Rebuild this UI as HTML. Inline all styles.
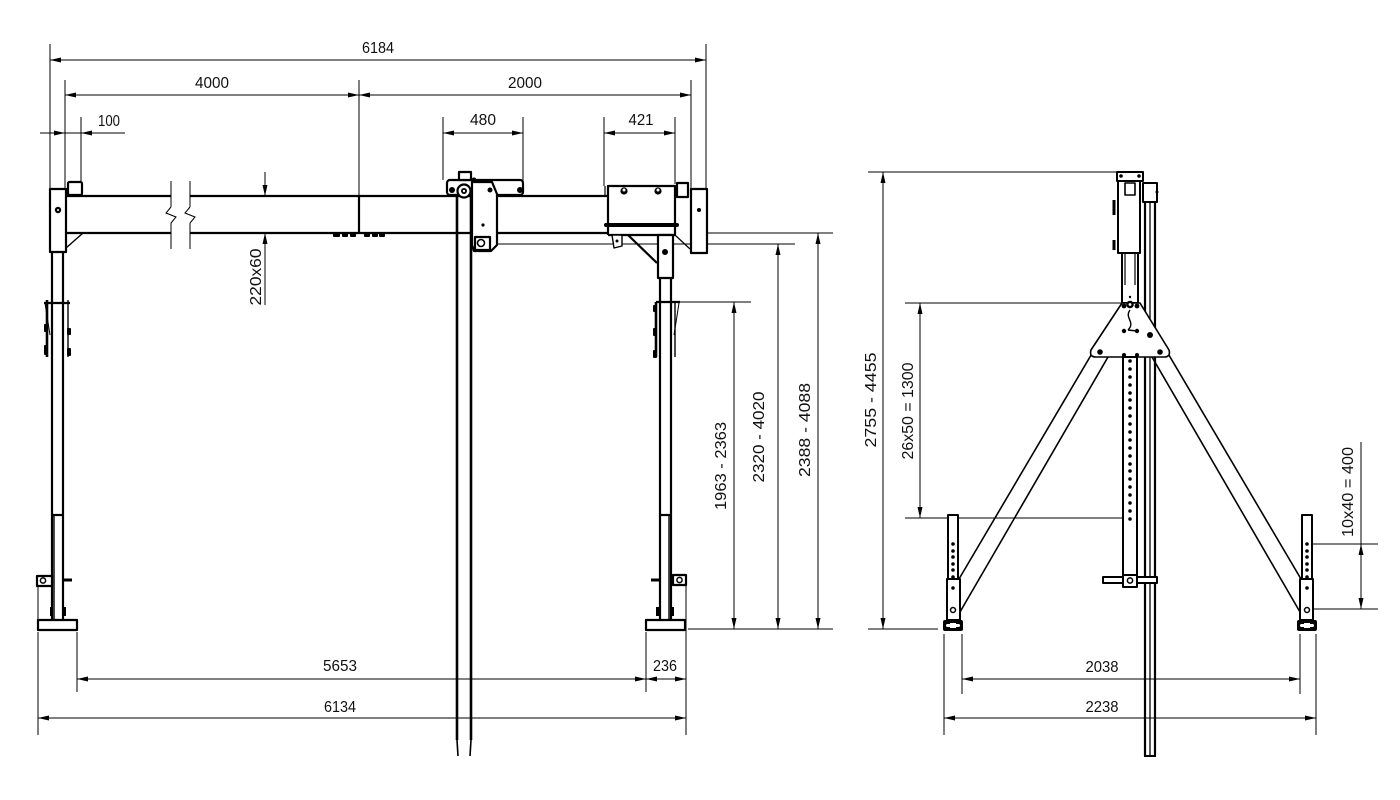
<!DOCTYPE html>
<html><head><meta charset="utf-8"><style>
html,body{margin:0;padding:0;background:#fff;}
svg{display:block;}
text{font-family:"Liberation Sans",sans-serif;font-size:16px;fill:#111;}
</style></head><body>
<svg width="1400" height="800" viewBox="0 0 1400 800" xmlns="http://www.w3.org/2000/svg">
<rect width="1400" height="800" fill="#fff"/>

<!-- ============ DIMENSION LINES (thin) ============ -->
<g stroke="#000" stroke-width="1" fill="none">
  <!-- top ext lines -->
  <line x1="50" y1="44" x2="50" y2="188"/>
  <line x1="706" y1="44" x2="706" y2="188"/>
  <line x1="65" y1="80" x2="65" y2="189"/>
  <line x1="359" y1="80" x2="359" y2="196"/>
  <line x1="691" y1="80" x2="691" y2="190"/>
  <line x1="81" y1="117" x2="81" y2="182"/>
  <line x1="443" y1="117" x2="443" y2="180"/>
  <line x1="523" y1="117" x2="523" y2="182"/>
  <line x1="604" y1="117" x2="604" y2="186"/>
  <line x1="675" y1="117" x2="675" y2="184"/>
  <!-- top dim lines -->
  <line x1="50" y1="60" x2="706" y2="60"/>
  <line x1="65" y1="95" x2="691" y2="95"/>
  <line x1="40" y1="133" x2="125" y2="133"/>
  <line x1="443" y1="133" x2="523" y2="133"/>
  <line x1="604" y1="133" x2="675" y2="133"/>
  <!-- 220x60 -->
  <line x1="265" y1="172" x2="265" y2="196"/>
  <line x1="265" y1="233" x2="265" y2="305"/>
  <!-- break lines -->
  <line x1="171" y1="181" x2="171" y2="207"/>
  <polyline points="171,207 166,213 176,217 171,223"/>
  <line x1="171" y1="223" x2="171" y2="249"/>
  <line x1="190" y1="181" x2="190" y2="207"/>
  <polyline points="190,207 185,213 195,217 190,223"/>
  <line x1="190" y1="223" x2="190" y2="249"/>

  <!-- right vertical dims front view -->
  <line x1="707" y1="233" x2="833" y2="233"/>
  <line x1="495" y1="244" x2="795" y2="244"/>
  <line x1="680" y1="302" x2="751" y2="302"/>
  <line x1="688" y1="629" x2="833" y2="629"/>
  <line x1="734" y1="302" x2="734" y2="629"/>
  <line x1="778" y1="244" x2="778" y2="629"/>
  <line x1="818" y1="233" x2="818" y2="629"/>

  <!-- bottom dims front -->
  <line x1="38" y1="632" x2="38" y2="735"/>
  <line x1="77" y1="632" x2="77" y2="692"/>
  <line x1="646" y1="632" x2="646" y2="692"/>
  <line x1="686" y1="585" x2="686" y2="735"/>
  <line x1="38" y1="585" x2="38" y2="620"/>
  <line x1="77" y1="679" x2="686" y2="679"/>
  <line x1="38" y1="718" x2="686" y2="718"/>

  <!-- side view dims -->
  <line x1="868" y1="172" x2="1116" y2="172"/>
  <line x1="868" y1="629" x2="938" y2="629"/>
  <line x1="883" y1="172" x2="883" y2="629"/>
  <line x1="905" y1="303" x2="1122" y2="303"/>
  <line x1="905" y1="518" x2="1128" y2="518"/>
  <line x1="920" y1="303" x2="920" y2="518"/>
  <line x1="1313" y1="544" x2="1378" y2="544"/>
  <line x1="1313" y1="609" x2="1378" y2="609"/>
  <line x1="1361" y1="442" x2="1361" y2="609"/>
  <line x1="944" y1="634" x2="944" y2="735"/>
  <line x1="962" y1="634" x2="962" y2="694"/>
  <line x1="1300" y1="634" x2="1300" y2="694"/>
  <line x1="1316" y1="634" x2="1316" y2="735"/>
  <line x1="962" y1="679" x2="1300" y2="679"/>
  <line x1="944" y1="718" x2="1316" y2="718"/>
</g>

<!-- ============ ARROWHEADS ============ -->
<g fill="#000" stroke="none">
  <!-- 6184 -->
  <polygon points="50,60 61,57.5 61,62.5"/>
  <polygon points="706,60 695,57.5 695,62.5"/>
  <!-- 4000 / 2000 -->
  <polygon points="65,95 76,92.5 76,97.5"/>
  <polygon points="359,95 348,92.5 348,97.5"/>
  <polygon points="359,95 370,92.5 370,97.5"/>
  <polygon points="691,95 680,92.5 680,97.5"/>
  <!-- 100 -->
  <polygon points="65,133 54,130.5 54,135.5"/>
  <polygon points="81,133 92,130.5 92,135.5"/>
  <!-- 480 -->
  <polygon points="443,133 454,130.5 454,135.5"/>
  <polygon points="523,133 512,130.5 512,135.5"/>
  <!-- 421 -->
  <polygon points="604,133 615,130.5 615,135.5"/>
  <polygon points="675,133 664,130.5 664,135.5"/>
  <!-- 220x60 -->
  <polygon points="265,196 262.5,185 267.5,185"/>
  <polygon points="265,233 262.5,244 267.5,244"/>
  <!-- 5653 / 236 -->
  <polygon points="77,679 88,676.5 88,681.5"/>
  <polygon points="646,679 635,676.5 635,681.5"/>
  <polygon points="646,679 657,676.5 657,681.5"/>
  <polygon points="686,679 675,676.5 675,681.5"/>
  <!-- 6134 -->
  <polygon points="38,718 49,715.5 49,720.5"/>
  <polygon points="686,718 675,715.5 675,720.5"/>
  <!-- verticals front -->
  <polygon points="734,302 731.5,313 736.5,313"/>
  <polygon points="734,629 731.5,618 736.5,618"/>
  <polygon points="778,244 775.5,255 780.5,255"/>
  <polygon points="778,629 775.5,618 780.5,618"/>
  <polygon points="818,233 815.5,244 820.5,244"/>
  <polygon points="818,629 815.5,618 820.5,618"/>
  <!-- side -->
  <polygon points="883,172 880.5,183 885.5,183"/>
  <polygon points="883,629 880.5,618 885.5,618"/>
  <polygon points="920,303 917.5,314 922.5,314"/>
  <polygon points="920,518 917.5,507 922.5,507"/>
  <polygon points="1361,544 1358.5,555 1363.5,555"/>
  <polygon points="1361,609 1358.5,598 1363.5,598"/>
  <polygon points="962,679 973,676.5 973,681.5"/>
  <polygon points="1300,679 1289,676.5 1289,681.5"/>
  <polygon points="944,718 955,715.5 955,720.5"/>
  <polygon points="1316,718 1305,715.5 1305,720.5"/>
</g>

<!-- ============ FRONT VIEW STRUCTURE ============ -->
<g stroke="#000" stroke-width="2.2" fill="none" stroke-linejoin="round">
  <!-- beam -->
  <line x1="66" y1="196" x2="171" y2="196"/>
  <line x1="66" y1="233" x2="171" y2="233"/>
  <line x1="190" y1="196" x2="608" y2="196"/>
  <line x1="190" y1="233" x2="608" y2="233"/>
  <line x1="359" y1="196" x2="359" y2="233"/>
  <!-- left block -->
  <rect x="50" y="189" width="16" height="63" fill="#fff"/>
  <rect x="68" y="182" width="14" height="13" rx="1.5" fill="#fff"/>
  <line x1="66" y1="248" x2="83" y2="233" stroke-width="1.4"/>
  <!-- left column -->
  <line x1="52" y1="252" x2="52" y2="620"/>
  <line x1="63" y1="252" x2="63" y2="620"/>
  <line x1="52" y1="515" x2="63" y2="515"/>
  <line x1="54" y1="515" x2="54" y2="620" stroke-width="1.4"/>
  <!-- left clamp -->
  <line x1="44" y1="303" x2="70" y2="303"/>
  <line x1="47" y1="300" x2="47" y2="357" stroke-width="2.6"/>
  <line x1="68" y1="300" x2="68" y2="357" stroke-width="1.4"/>
  <line x1="45" y1="303" x2="50" y2="335" stroke-width="1"/>
  <!-- left bracket -->
  <rect x="37" y="576" width="15" height="10" fill="#fff"/>
  <circle cx="43" cy="580.5" r="2.6" stroke-width="1.5"/>
  <line x1="63" y1="580" x2="72" y2="580" stroke-width="3"/>
  <!-- left foot -->
  <rect x="38" y="620" width="39" height="10" fill="#fff"/>

  <!-- right top box -->
  <rect x="608" y="186" width="67" height="39" fill="#fff"/>
  <line x1="608" y1="225" x2="608" y2="235"/>
  <line x1="675" y1="225" x2="675" y2="235"/>
  <line x1="608" y1="235" x2="675" y2="235"/>
  <line x1="606" y1="225" x2="677" y2="225" stroke-width="4" stroke-linecap="round"/>
  <line x1="605" y1="186" x2="605" y2="196" stroke-width="1.2"/>
  <rect x="677" y="183" width="11" height="14" fill="#fff"/>
  <rect x="691" y="189" width="16" height="64" fill="#fff"/>
  <line x1="628" y1="235" x2="657" y2="263"/>
  <line x1="675" y1="235" x2="690" y2="249" stroke-width="1.2"/>
  <path d="M612,235 L622,235 L622,246 L614,248 Z" stroke-width="1.4" fill="#fff"/>
  <!-- right column -->
  <rect x="658" y="235" width="15" height="43" fill="#fff"/>
  <line x1="660" y1="278" x2="660" y2="620"/>
  <line x1="671" y1="278" x2="671" y2="620"/>
  <line x1="660" y1="515" x2="671" y2="515"/>
  <line x1="669" y1="515" x2="669" y2="620" stroke-width="1.4"/>
  <!-- right clamp -->
  <line x1="656" y1="302" x2="680" y2="302"/>
  <line x1="656" y1="302" x2="656" y2="357" stroke-width="2.6"/>
  <line x1="675" y1="302" x2="675" y2="357" stroke-width="1.4"/>
  <line x1="679" y1="303" x2="674" y2="335" stroke-width="1"/>
  <!-- right bracket -->
  <rect x="673" y="575" width="13" height="10" fill="#fff"/>
  <circle cx="679.5" cy="580" r="2.6" stroke-width="1.5"/>
  <line x1="651" y1="580" x2="660" y2="580" stroke-width="3"/>
  <!-- right foot -->
  <rect x="646" y="620" width="39" height="10" fill="#fff"/>

  <!-- hanging bar -->
  <line x1="457" y1="196" x2="457" y2="740" stroke-width="2.6"/>
  <line x1="471" y1="196" x2="471" y2="740" stroke-width="2.6"/>
  <line x1="457" y1="740" x2="458" y2="756" stroke-width="1.6"/>
  <line x1="471" y1="740" x2="470" y2="756" stroke-width="1.6"/>
  <!-- trolley -->
  <rect x="447" y="180" width="76" height="15" rx="3" fill="#fff"/>
  <path d="M472,182 L492,182 L497,194 L497,245 L491,251 L474,251 L472,245 Z" fill="#fff"/>
  <rect x="475" y="237" width="15" height="13" fill="#fff"/>
  <circle cx="481" cy="243" r="3.5" stroke-width="1.6"/>
  <rect x="459" y="172" width="12" height="8" fill="#fff"/>
  <circle cx="464" cy="191" r="6.5" fill="#fff"/>
</g>

<g fill="#000">
  <!-- bumps under beam -->
  <rect x="333" y="233" width="7" height="4" rx="1"/>
  <rect x="342" y="233" width="6" height="4" rx="1"/>
  <rect x="350" y="233" width="6" height="4" rx="1"/>
  <rect x="364" y="233" width="6" height="4" rx="1"/>
  <rect x="372" y="233" width="6" height="4" rx="1"/>
  <rect x="379" y="233" width="6" height="4" rx="1"/>
  <!-- dots -->
  <circle cx="58" cy="210" r="3.2"/>
  <circle cx="699" cy="210" r="2"/>
  <circle cx="665" cy="252" r="3"/>
  <circle cx="617" cy="241" r="1.5"/>
  <circle cx="464" cy="191" r="3"/>
  <circle cx="452" cy="190" r="3"/>
  <circle cx="520" cy="190" r="3"/>
  <circle cx="490" cy="190" r="2.5"/>
  <circle cx="483" cy="225" r="1.6"/>
  <circle cx="474" cy="180" r="2.5"/>
  <!-- bolts on right box -->
  <circle cx="624" cy="191" r="3.6"/>
  <circle cx="658" cy="191" r="3.6"/>
  <!-- clamp nubs -->
  <rect x="44" y="324" width="4" height="8" rx="1"/>
  <rect x="44" y="345" width="4" height="10" rx="1"/>
  <rect x="67" y="328" width="4" height="7" rx="1"/>
  <rect x="67" y="348" width="4" height="8" rx="1"/>
  <rect x="653" y="305" width="4" height="7" rx="1"/>
  <rect x="653" y="328" width="4" height="8" rx="1"/>
  <rect x="653" y="350" width="4" height="8" rx="1"/>
  <rect x="50" y="607" width="3" height="9"/>
  <rect x="63" y="607" width="3" height="9"/>
  <rect x="656" y="607" width="3" height="9"/>
  <rect x="671" y="607" width="3" height="9"/>
</g>
<g fill="#fff">
  <circle cx="58" cy="210" r="1"/>
  <circle cx="464" cy="191" r="1.2"/>
  <circle cx="624" cy="190" r="1.5"/>
  <circle cx="658" cy="190" r="1.5"/>
</g>

<!-- ============ SIDE VIEW STRUCTURE ============ -->
<g stroke="#000" stroke-width="2" fill="none" stroke-linejoin="round">
  <!-- rails -->
  <line x1="1145" y1="200" x2="1145" y2="756" stroke-width="2.2"/>
  <line x1="1150" y1="200" x2="1150" y2="756" stroke-width="1.3"/>
  <line x1="1155" y1="200" x2="1155" y2="756" stroke-width="2.2"/>
  <line x1="1144" y1="756" x2="1156" y2="756"/>
  <!-- legs -->
  <line x1="1097" y1="345" x2="959" y2="579" stroke-width="1.6"/>
  <line x1="1108" y1="357" x2="960" y2="612" stroke-width="1.6"/>
  <line x1="1163" y1="345" x2="1301" y2="579" stroke-width="1.6"/>
  <line x1="1152" y1="357" x2="1300" y2="612" stroke-width="1.6"/>
  <!-- top head -->
  <rect x="1117" y="172" width="26" height="9" fill="#fff"/>
  <rect x="1118" y="181" width="22" height="72" fill="#fff"/>
  <rect x="1125" y="183" width="10" height="12" stroke-width="1.6"/>
  <rect x="1143" y="183" width="14" height="19" fill="#fff"/>
  <line x1="1114" y1="200" x2="1114" y2="215" stroke-width="3"/>
  <line x1="1114" y1="240" x2="1114" y2="250" stroke-width="3"/>
  <!-- lower mast upper -->
  <rect x="1122" y="253" width="16" height="50" fill="#fff"/>
  <line x1="1125" y1="253" x2="1125" y2="285" stroke-width="1.2"/>
  <line x1="1135" y1="253" x2="1135" y2="285" stroke-width="1.2"/>
  <!-- triangle plate -->
  <path d="M1122,303 L1140,303 L1169,350 Q1171,357 1164,357 L1096,357 Q1089,357 1091,350 Z" fill="#fff" stroke-width="1.6"/>
  <path d="M1130,310 C1124,318 1136,322 1128,330 M1128,330 L1137,331" stroke-width="1.4"/>
  <!-- lower mast -->
  <rect x="1123" y="357" width="14" height="229" fill="#fff"/>
  <!-- mast clamp -->
  <rect x="1103" y="577" width="54" height="6" fill="#fff"/>
  <rect x="1123" y="575" width="14" height="12" fill="#fff"/>
  <circle cx="1130" cy="580.5" r="2.6" stroke-width="1.5"/>
  <!-- left foot -->
  <rect x="948" y="515" width="10" height="64" fill="#fff"/>
  <rect x="947" y="579" width="13" height="41" fill="#fff"/>
  <circle cx="953" cy="610" r="2.5" stroke-width="1.5"/>
  <!-- right foot -->
  <rect x="1302" y="515" width="10" height="64" fill="#fff"/>
  <rect x="1300" y="579" width="13" height="41" fill="#fff"/>
  <circle cx="1307" cy="610" r="2.5" stroke-width="1.5"/>
</g>
<g fill="#000">
  <!-- foot bases -->
  <rect x="943" y="620" width="20" height="11" rx="2"/>
  <rect x="1297" y="620" width="20" height="11" rx="2"/>
  <!-- head dots -->
  <circle cx="1121" cy="176" r="1.8"/>
  <circle cx="1139" cy="176" r="1.8"/>
  <circle cx="1157" cy="192" r="1.5"/>
  <!-- triangle holes -->
  <circle cx="1124" cy="306" r="2.4"/>
  <circle cx="1130" cy="304.5" r="3.8"/>
  <circle cx="1137" cy="306" r="2.4"/>
  <circle cx="1130" cy="297" r="1.2"/>
  <circle cx="1124" cy="331" r="2.2"/>
  <circle cx="1137" cy="331" r="2.2"/>
  <circle cx="1150" cy="335" r="3"/>
  <circle cx="1100" cy="352" r="2.8"/>
  <circle cx="1124" cy="355" r="2"/>
  <circle cx="1137" cy="355" r="2"/>
  <circle cx="1160" cy="352" r="2.8"/>
  <!-- mast holes -->
  <circle cx="1130" cy="361" r="1.8"/><circle cx="1130" cy="369" r="1.8"/>
  <circle cx="1130" cy="377" r="1.8"/><circle cx="1130" cy="385" r="1.8"/>
  <circle cx="1130" cy="393" r="1.8"/><circle cx="1130" cy="400" r="1.8"/>
  <circle cx="1130" cy="408" r="1.8"/><circle cx="1130" cy="416" r="1.8"/>
  <circle cx="1130" cy="424" r="1.8"/><circle cx="1130" cy="432" r="1.8"/>
  <circle cx="1130" cy="440" r="1.8"/><circle cx="1130" cy="448" r="1.8"/>
  <circle cx="1130" cy="456" r="1.8"/><circle cx="1130" cy="464" r="1.8"/>
  <circle cx="1130" cy="471" r="1.8"/><circle cx="1130" cy="479" r="1.8"/>
  <circle cx="1130" cy="487" r="1.8"/><circle cx="1130" cy="495" r="1.8"/>
  <circle cx="1130" cy="503" r="1.8"/><circle cx="1130" cy="511" r="1.8"/>
  <circle cx="1130" cy="519" r="1.8"/>
  <!-- foot holes -->
  <circle cx="953" cy="544" r="1.8"/><circle cx="953" cy="551" r="1.8"/>
  <circle cx="953" cy="557" r="1.8"/><circle cx="953" cy="564" r="1.8"/>
  <circle cx="953" cy="570" r="1.8"/><circle cx="953" cy="577" r="1.8"/>
  <circle cx="953" cy="588" r="1.8"/>
  <circle cx="1307" cy="544" r="1.8"/><circle cx="1307" cy="551" r="1.8"/>
  <circle cx="1307" cy="557" r="1.8"/><circle cx="1307" cy="564" r="1.8"/>
  <circle cx="1307" cy="570" r="1.8"/><circle cx="1307" cy="577" r="1.8"/>
  <circle cx="1307" cy="588" r="1.8"/>
</g>
<g fill="#fff">
  <circle cx="1130" cy="304.5" r="1.4"/>
  <rect x="946" y="624" width="14" height="3" rx="1.5"/>
  <rect x="950" y="623" width="6" height="5"/>
  <rect x="1300" y="624" width="14" height="3" rx="1.5"/>
  <rect x="1304" y="623" width="6" height="5"/>
</g>

<!-- ============ TEXT ============ -->
<text x="378" y="53" text-anchor="middle" textLength="32" lengthAdjust="spacingAndGlyphs">6184</text>
<text x="212" y="88" text-anchor="middle" textLength="34" lengthAdjust="spacingAndGlyphs">4000</text>
<text x="525" y="88" text-anchor="middle" textLength="34" lengthAdjust="spacingAndGlyphs">2000</text>
<text x="109" y="126" text-anchor="middle" textLength="22" lengthAdjust="spacingAndGlyphs">100</text>
<text x="483" y="125" text-anchor="middle" textLength="26" lengthAdjust="spacingAndGlyphs">480</text>
<text x="641" y="125" text-anchor="middle" textLength="25" lengthAdjust="spacingAndGlyphs">421</text>
<text x="340" y="671" text-anchor="middle" textLength="34" lengthAdjust="spacingAndGlyphs">5653</text>
<text x="665" y="671" text-anchor="middle" textLength="24" lengthAdjust="spacingAndGlyphs">236</text>
<text x="340" y="712" text-anchor="middle" textLength="32" lengthAdjust="spacingAndGlyphs">6134</text>
<text x="1102" y="672" text-anchor="middle" textLength="33" lengthAdjust="spacingAndGlyphs">2038</text>
<text x="1102" y="712" text-anchor="middle" textLength="33" lengthAdjust="spacingAndGlyphs">2238</text>

<text transform="translate(261,277) rotate(-90)" text-anchor="middle" textLength="57" lengthAdjust="spacingAndGlyphs">220x60</text>
<text transform="translate(726,466) rotate(-90)" text-anchor="middle" textLength="88" lengthAdjust="spacingAndGlyphs">1963 - 2363</text>
<text transform="translate(764,437) rotate(-90)" text-anchor="middle" textLength="91" lengthAdjust="spacingAndGlyphs">2320 - 4020</text>
<text transform="translate(810,430) rotate(-90)" text-anchor="middle" textLength="94" lengthAdjust="spacingAndGlyphs">2388 - 4088</text>
<text transform="translate(876,400) rotate(-90)" text-anchor="middle" textLength="95" lengthAdjust="spacingAndGlyphs">2755 - 4455</text>
<text transform="translate(913,411) rotate(-90)" text-anchor="middle" textLength="97" lengthAdjust="spacingAndGlyphs">26x50 = 1300</text>
<text transform="translate(1353,492) rotate(-90)" text-anchor="middle" textLength="90" lengthAdjust="spacingAndGlyphs">10x40 = 400</text>
</svg>
</body></html>
